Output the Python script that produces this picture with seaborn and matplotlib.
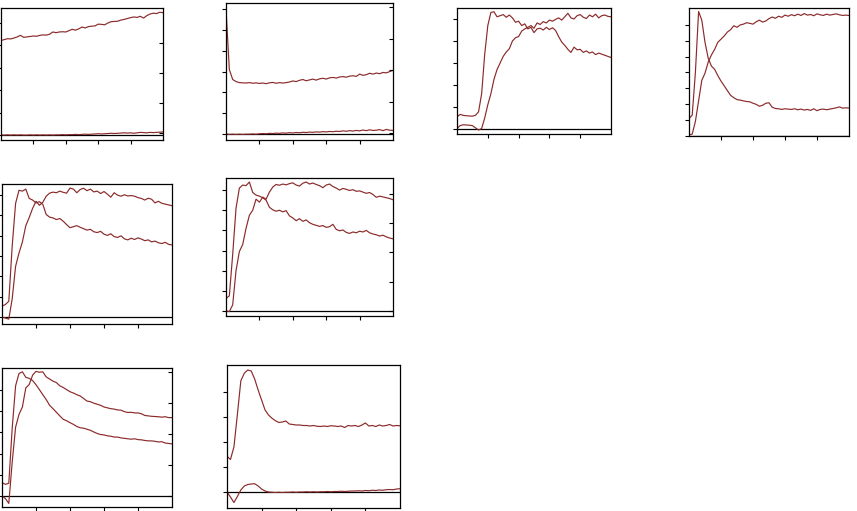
import numpy as np
import matplotlib
matplotlib.use("Agg")
import matplotlib.pyplot as plt
import seaborn as sns

# ─────────────────────────────────────────────
# DATA  (two traces per panel, x runs 0 → 5)
# ─────────────────────────────────────────────
x = np.linspace(0, 5, 51)

p1_a = [4.22, 4.26, 4.30, 4.29, 4.33, 4.38, 4.45, 4.36, 4.38, 4.40, 4.42, 4.41, 4.45, 4.47, 4.46, 4.50, 4.60,
        4.57, 4.60, 4.61, 4.60, 4.66, 4.72, 4.68, 4.74, 4.82, 4.78, 4.84, 4.86, 4.87, 4.95, 4.94, 4.92, 5.00,
        5.06, 5.07, 5.08, 5.13, 5.16, 5.20, 5.24, 5.27, 5.25, 5.30, 5.22, 5.33, 5.40, 5.44, 5.42, 5.48, 5.46]
p1_b = [0.01, 0.00, 0.01, 0.00, 0.01, 0.00, 0.01, 0.00, 0.00, 0.01, 0.00, 0.01, 0.00, 0.01, 0.00, 0.01, 0.00,
        0.01, 0.01, 0.02, 0.01, 0.02, 0.02, 0.03, 0.02, 0.03, 0.04, 0.03, 0.04, 0.05, 0.06, 0.05, 0.06, 0.07,
        0.08, 0.07, 0.08, 0.09, 0.10, 0.09, 0.10, 0.08, 0.10, 0.12, 0.11, 0.10, 0.12, 0.11, 0.12, 0.13, 0.14]

p2_a = [6.00, 3.10, 2.62, 2.52, 2.47, 2.46, 2.45, 2.47, 2.44, 2.46, 2.43, 2.45, 2.42, 2.46, 2.48, 2.44, 2.47,
        2.45, 2.47, 2.50, 2.55, 2.52, 2.58, 2.62, 2.56, 2.60, 2.64, 2.59, 2.65, 2.68, 2.64, 2.70, 2.72, 2.69,
        2.74, 2.76, 2.73, 2.78, 2.80, 2.77, 2.88, 2.82, 2.85, 2.92, 2.88, 2.93, 2.90, 2.96, 2.94, 3.00, 3.06]
p2_b = [0.00, -0.02, -0.01, -0.02, -0.01, -0.02, -0.01, -0.01, 0.00, -0.01, 0.01, 0.02, 0.01, 0.03, 0.02,
        0.04, 0.03, 0.05, 0.04, 0.06, 0.05, 0.07, 0.06, 0.08, 0.07, 0.09, 0.08, 0.10, 0.09, 0.11, 0.10, 0.12,
        0.11, 0.13, 0.12, 0.15, 0.13, 0.16, 0.14, 0.17, 0.15, 0.19, 0.16, 0.20, 0.17, 0.18, 0.21, 0.16, 0.22,
        0.18, 0.17]

p3_a = [0.55, 0.66, 0.62, 0.60, 0.59, 0.58, 0.62, 0.78, 1.60, 3.40, 4.70, 5.30, 5.33, 5.10, 5.15, 5.20, 5.08,
        5.18, 5.05, 4.85, 4.90, 4.70, 4.78, 4.55, 4.62, 4.38, 4.55, 4.58, 4.50, 4.62, 4.52, 4.60, 4.48, 4.20,
        3.95, 3.80, 3.62, 3.48, 3.72, 3.60, 3.62, 3.48, 3.55, 3.45, 3.50, 3.38, 3.45, 3.40, 3.35, 3.30, 3.25]
p3_b = [0.02, 0.15, 0.19, 0.18, 0.17, 0.15, 0.05, -0.05, 0.02, 0.50, 1.10, 1.60, 2.25, 2.70, 3.00, 3.30, 3.50,
        3.65, 4.00, 4.15, 4.20, 4.45, 4.55, 4.62, 4.70, 4.58, 4.82, 4.75, 4.88, 4.82, 4.95, 4.90, 4.98, 5.05,
        4.95, 5.10, 5.26, 5.05, 5.00, 5.15, 5.20, 5.08, 5.02, 5.18, 5.10, 5.22, 5.05, 5.15, 5.18, 5.12, 5.10]

p4_a = [1.07, 1.30, 4.00, 7.85, 7.30, 5.90, 4.90, 4.40, 4.20, 3.80, 3.45, 3.15, 2.85, 2.55, 2.40, 2.28, 2.25,
        2.20, 2.16, 2.14, 2.05, 1.98, 1.86, 1.92, 2.05, 2.08, 1.80, 1.72, 1.70, 1.66, 1.70, 1.68, 1.66, 1.70,
        1.64, 1.68, 1.62, 1.66, 1.60, 1.70, 1.58, 1.66, 1.68, 1.64, 1.68, 1.72, 1.76, 1.82, 1.74, 1.76, 1.75]
p4_b = [0.05, 0.10, 0.90, 2.20, 3.50, 3.95, 4.65, 5.10, 5.45, 5.90, 6.10, 6.30, 6.55, 6.70, 6.95, 6.85, 7.00,
        7.05, 7.14, 7.10, 7.05, 7.20, 7.30, 7.18, 7.25, 7.40, 7.50, 7.42, 7.55, 7.48, 7.62, 7.55, 7.65, 7.58,
        7.68, 7.60, 7.72, 7.62, 7.66, 7.58, 7.70, 7.64, 7.60, 7.68, 7.62, 7.66, 7.70, 7.64, 7.60, 7.62, 7.60]

p5_a = [0.54, 0.62, 0.78, 3.50, 5.60, 6.24, 6.20, 6.30, 5.84, 5.76, 5.62, 5.68, 5.55, 5.05, 4.92, 4.88, 4.80,
        4.85, 4.72, 4.55, 4.40, 4.45, 4.50, 4.42, 4.35, 4.28, 4.32, 4.20, 4.16, 4.22, 4.08, 4.02, 4.10, 3.96,
        3.92, 4.00, 3.85, 3.80, 3.88, 3.82, 3.90, 3.84, 3.76, 3.80, 3.70, 3.74, 3.66, 3.62, 3.68, 3.58, 3.55]
p5_b = [0.00, -0.05, -0.10, 0.90, 2.50, 3.15, 3.70, 4.50, 4.90, 5.35, 5.70, 5.50, 5.65, 5.95, 6.10, 6.15, 6.12,
        6.20, 6.14, 6.10, 6.35, 6.30, 6.12, 6.28, 6.34, 6.22, 6.30, 6.16, 6.20, 6.08, 6.18, 6.05, 5.90, 6.12,
        6.00, 5.95, 6.02, 5.96, 5.98, 5.95, 5.88, 5.84, 5.76, 5.85, 5.80, 5.62, 5.70, 5.60, 5.56, 5.52, 5.48]

p6_a = [0.62, 0.75, 2.80, 5.10, 6.10, 6.25, 6.22, 6.40, 5.88, 5.75, 5.70, 5.62, 5.50, 5.15, 5.02, 4.95, 5.00,
        4.92, 4.98, 4.72, 4.62, 4.48, 4.58, 4.45, 4.52, 4.38, 4.30, 4.25, 4.20, 4.24, 4.15, 4.18, 4.30, 4.05,
        3.98, 4.02, 3.90, 3.85, 3.92, 3.88, 3.96, 3.92, 4.00, 3.88, 3.82, 3.78, 3.72, 3.76, 3.68, 3.62, 3.58]
p6_b = [0.00, -0.03, 0.30, 2.00, 2.95, 3.30, 4.10, 4.75, 5.00, 5.55, 5.40, 5.65, 5.55, 5.90, 6.15, 6.28, 6.24,
        6.30, 6.26, 6.32, 6.36, 6.25, 6.20, 6.34, 6.40, 6.30, 6.35, 6.28, 6.22, 6.12, 6.25, 6.30, 6.18, 6.10,
        6.00, 6.08, 6.04, 5.98, 6.02, 5.94, 5.96, 5.90, 5.84, 5.88, 5.78, 5.64, 5.70, 5.66, 5.62, 5.58, 5.52]

p7_a = [0.63, 0.55, 0.60, 3.20, 5.20, 5.78, 5.86, 5.60, 5.55, 5.45, 5.25, 5.02, 4.78, 4.55, 4.28, 4.12, 3.95,
        3.78, 3.62, 3.55, 3.46, 3.38, 3.28, 3.22, 3.20, 3.15, 3.10, 3.02, 2.95, 2.90, 2.88, 2.84, 2.82, 2.78,
        2.78, 2.74, 2.72, 2.70, 2.68, 2.70, 2.66, 2.65, 2.62, 2.60, 2.60, 2.58, 2.55, 2.56, 2.50, 2.48, 2.46]
p7_b = [0.00, -0.12, -0.35, 1.60, 3.25, 3.85, 4.20, 5.10, 5.26, 5.70, 5.88, 5.84, 5.86, 5.62, 5.52, 5.42, 5.35,
        5.20, 5.12, 5.02, 4.92, 4.86, 4.78, 4.72, 4.60, 4.48, 4.45, 4.38, 4.33, 4.28, 4.20, 4.16, 4.12, 4.10,
        4.06, 4.05, 3.98, 3.94, 3.95, 3.92, 3.92, 3.88, 3.80, 3.78, 3.76, 3.75, 3.74, 3.72, 3.74, 3.70, 3.70]

p8_a = [1.43, 1.30, 1.80, 3.10, 4.45, 4.75, 4.88, 4.84, 4.52, 4.08, 3.68, 3.28, 3.08, 2.95, 2.85, 2.78, 2.80,
        2.84, 2.72, 2.70, 2.68, 2.68, 2.66, 2.66, 2.64, 2.66, 2.63, 2.62, 2.64, 2.62, 2.65, 2.64, 2.62, 2.64,
        2.58, 2.66, 2.64, 2.66, 2.62, 2.68, 2.76, 2.64, 2.66, 2.62, 2.68, 2.64, 2.66, 2.70, 2.64, 2.66, 2.65]
p8_b = [0.00, -0.20, -0.42, -0.18, 0.08, 0.24, 0.30, 0.32, 0.33, 0.24, 0.12, 0.04, 0.00, -0.01, -0.02, -0.01,
        -0.02, -0.01, -0.01, 0.00, -0.01, 0.00, 0.00, 0.01, 0.00, 0.01, 0.00, 0.01, 0.01, 0.02, 0.01, 0.02,
        0.02, 0.03, 0.02, 0.03, 0.04, 0.04, 0.05, 0.04, 0.06, 0.05, 0.07, 0.06, 0.08, 0.07, 0.09, 0.10, 0.09,
        0.12, 0.13]

series = [(p1_a, p1_b), (p2_a, p2_b), (p3_a, p3_b), (p4_a, p4_b),
          (p5_a, p5_b), (p6_a, p6_b), (p7_a, p7_b), (p8_a, p8_b)]

# ─────────────────────────────────────────────
# LAYOUT  (pixel box: left, right, top, bottom; y-limits; left ticks; right axis)
# ─────────────────────────────────────────────
W, H = 857, 511
panels = [
    dict(box=(1, 163, 8, 140),   ylim=(-0.22, 5.67), nticks=6, right=((-0.23, 4.17), 4)),
    dict(box=(226, 393, 3, 140), ylim=(-0.29, 6.30), nticks=7, right=((-0.22, 4.13), 5)),
    dict(box=(457, 611, 8, 134), ylim=(-0.23, 5.50), nticks=6, right=None),
    dict(box=(689, 849, 8, 136), ylim=(-0.02, 8.07), nticks=8, right=None),
    dict(box=(2, 172, 184, 324), ylim=(-0.34, 6.55), nticks=7, right=None),
    dict(box=(226, 393, 178, 316), ylim=(-0.25, 6.60), nticks=7, right=((-0.17, 4.54), 5)),
    dict(box=(2, 172, 368, 507), ylim=(-0.52, 6.04), nticks=6, right=((-0.35, 4.13), 5)),
    dict(box=(227, 400, 365, 508), ylim=(-0.64, 5.08), nticks=5, right=None),
]

LINE = "#8b2a2a"

sns.set_style("white")
fig = plt.figure(figsize=(W / 100, H / 100), dpi=100)

for (ya, yb), p in zip(series, panels):
    l, r, t, b = p["box"]
    ax = fig.add_axes([l / W, 1 - b / H, (r - l) / W, (b - t) / H])
    sns.lineplot(x=x, y=ya, ax=ax, color=LINE, lw=0.85)
    sns.lineplot(x=x, y=yb, ax=ax, color=LINE, lw=0.85)
    ax.axhline(0, color="black", lw=0.9, zorder=1)
    ax.set_xlim(0, 5)
    ax.set_ylim(*p["ylim"])
    ax.set_xticks([1, 2, 3, 4])
    ax.set_yticks(range(p["nticks"]))
    ax.set_xticklabels([])
    ax.set_yticklabels([])
    ax.set_xlabel("")
    ax.set_ylabel("")
    ax.tick_params(axis="x", direction="out", length=3, width=0.8, color="black", bottom=True)
    ax.tick_params(axis="y", direction="out", length=3, width=0.8, color="black", left=True)
    for s in ax.spines.values():
        s.set_visible(True)
        s.set_color("black")
        s.set_linewidth(0.9)
    if p["right"] is not None:
        rlim, rn = p["right"]
        ax2 = ax.twinx()
        ax2.set_ylim(*rlim)
        ax2.set_yticks(range(rn))
        ax2.set_yticklabels([])
        ax2.tick_params(axis="y", direction="in", length=3, width=0.8, color="black", right=True)
        for s in ax2.spines.values():
            s.set_visible(False)

plt.savefig("out.png", dpi=100)
